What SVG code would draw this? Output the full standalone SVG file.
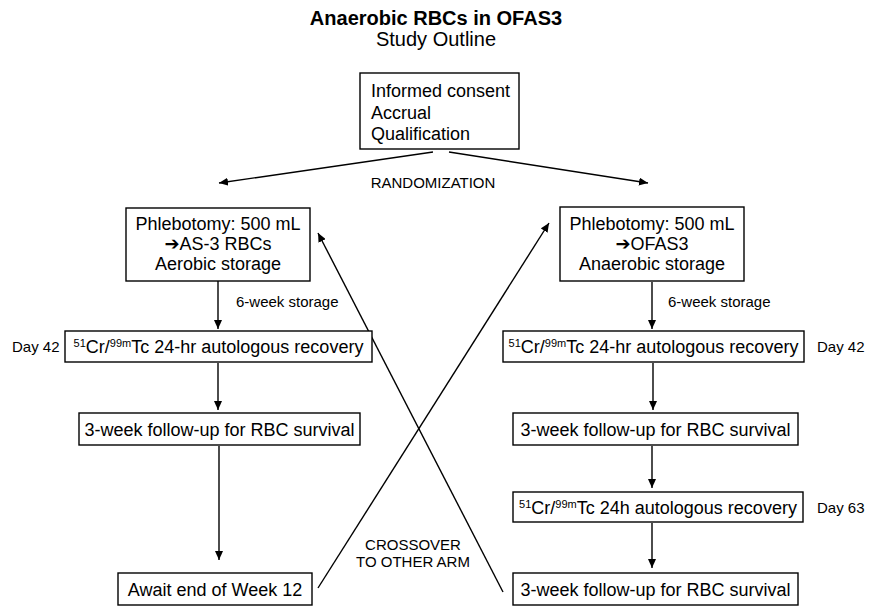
<svg xmlns="http://www.w3.org/2000/svg" width="873" height="607" viewBox="0 0 873 607">
<defs>
<marker id="ah" markerUnits="userSpaceOnUse" markerWidth="10" markerHeight="8" refX="9" refY="4" orient="auto">
<path d="M0,0 L9,4 L0,8 Z" fill="#000"/>
</marker>
<style>
text{font-family:"Liberation Sans",Arial,"DejaVu Sans",sans-serif;fill:#000}
.box{fill:#fff;stroke:#000;stroke-width:1.4}
.t{font-size:18px}
.tc{font-size:18px;text-anchor:middle}
.sup{font-size:11px}
.lbl{font-size:15px}
.conn line{stroke:#000;stroke-width:1.4;marker-end:url(#ah)}
</style>
</defs>
<rect width="873" height="607" fill="#fff"/>

<g id="title">
<text x="436" y="25" font-size="20" font-weight="bold" text-anchor="middle">Anaerobic RBCs in OFAS3</text>
<text x="436" y="46" font-size="20" text-anchor="middle">Study Outline</text>
</g>

<g id="connectors" class="conn">
<line x1="433" y1="152" x2="219" y2="183"/>
<line x1="449" y1="152" x2="648" y2="183"/>
<line x1="218" y1="281" x2="218" y2="329"/>
<line x1="652" y1="282" x2="652" y2="329"/>
<line x1="218" y1="363" x2="218" y2="410"/>
<line x1="653" y1="363" x2="653" y2="410"/>
<line x1="219" y1="446" x2="219" y2="560"/>
<line x1="652" y1="446" x2="652" y2="488"/>
<line x1="652" y1="523" x2="652" y2="568"/>
<line x1="318" y1="588" x2="549" y2="223"/>
<line x1="503" y1="592" x2="318" y2="233"/>
</g>

<g id="labels">
<text class="lbl" x="433" y="188" text-anchor="middle">RANDOMIZATION</text>
<text class="lbl" x="236" y="307">6-week storage</text>
<text class="lbl" x="668" y="307">6-week storage</text>
<text class="lbl" x="12" y="352">Day 42</text>
<text class="lbl" x="817" y="352">Day 42</text>
<text class="lbl" x="817" y="513">Day 63</text>
<text class="lbl" x="413" y="550" text-anchor="middle">CROSSOVER</text>
<text class="lbl" x="413" y="567" text-anchor="middle">TO OTHER ARM</text>
</g>

<g id="n-consent">
<rect class="box" x="360" y="73" width="159" height="76"/>
<text class="t" x="371" y="97">Informed consent</text>
<text class="t" x="371" y="118.5">Accrual</text>
<text class="t" x="371" y="140">Qualification</text>
</g>

<g id="n-phleb-left">
<rect class="box" x="126" y="208" width="184" height="73"/>
<text class="tc" x="218" y="230">Phlebotomy: 500 mL</text>
<text class="tc" x="218" y="250">➔AS-3 RBCs</text>
<text class="tc" x="218" y="270">Aerobic storage</text>
</g>

<g id="n-phleb-right">
<rect class="box" x="560" y="207" width="184" height="74"/>
<text class="tc" x="652" y="230">Phlebotomy: 500 mL</text>
<text class="tc" x="652" y="250">➔OFAS3</text>
<text class="tc" x="652" y="270">Anaerobic storage</text>
</g>

<g id="n-rec-left">
<rect class="box" x="65" y="331" width="307" height="31"/>
<text class="tc" x="218.5" y="353"><tspan class="sup" dy="-6">51</tspan><tspan dy="6">Cr/</tspan><tspan class="sup" dy="-6">99m</tspan><tspan dy="6">Tc 24-hr autologous recovery</tspan></text>
</g>

<g id="n-rec-right">
<rect class="box" x="503" y="331" width="301" height="31"/>
<text class="tc" x="653.5" y="353"><tspan class="sup" dy="-6">51</tspan><tspan dy="6">Cr/</tspan><tspan class="sup" dy="-6">99m</tspan><tspan dy="6">Tc 24-hr autologous recovery</tspan></text>
</g>

<g id="n-fu-left">
<rect class="box" x="79" y="413" width="281" height="32"/>
<text class="tc" x="219.5" y="435.5">3-week follow-up for RBC survival</text>
</g>

<g id="n-fu-right">
<rect class="box" x="513" y="413" width="285" height="32"/>
<text class="tc" x="655.5" y="435.5">3-week follow-up for RBC survival</text>
</g>

<g id="n-rec63">
<rect class="box" x="513" y="492" width="290" height="30"/>
<text class="tc" x="658" y="513.5"><tspan class="sup" dy="-6">51</tspan><tspan dy="6">Cr/</tspan><tspan class="sup" dy="-6">99m</tspan><tspan dy="6">Tc 24h autologous recovery</tspan></text>
</g>

<g id="n-await">
<rect class="box" x="118" y="573" width="194" height="32"/>
<text class="tc" x="215" y="595.5">Await end of Week 12</text>
</g>

<g id="n-fu-final">
<rect class="box" x="513" y="573" width="285" height="32"/>
<text class="tc" x="655.5" y="595.5">3-week follow-up for RBC survival</text>
</g>
</svg>
